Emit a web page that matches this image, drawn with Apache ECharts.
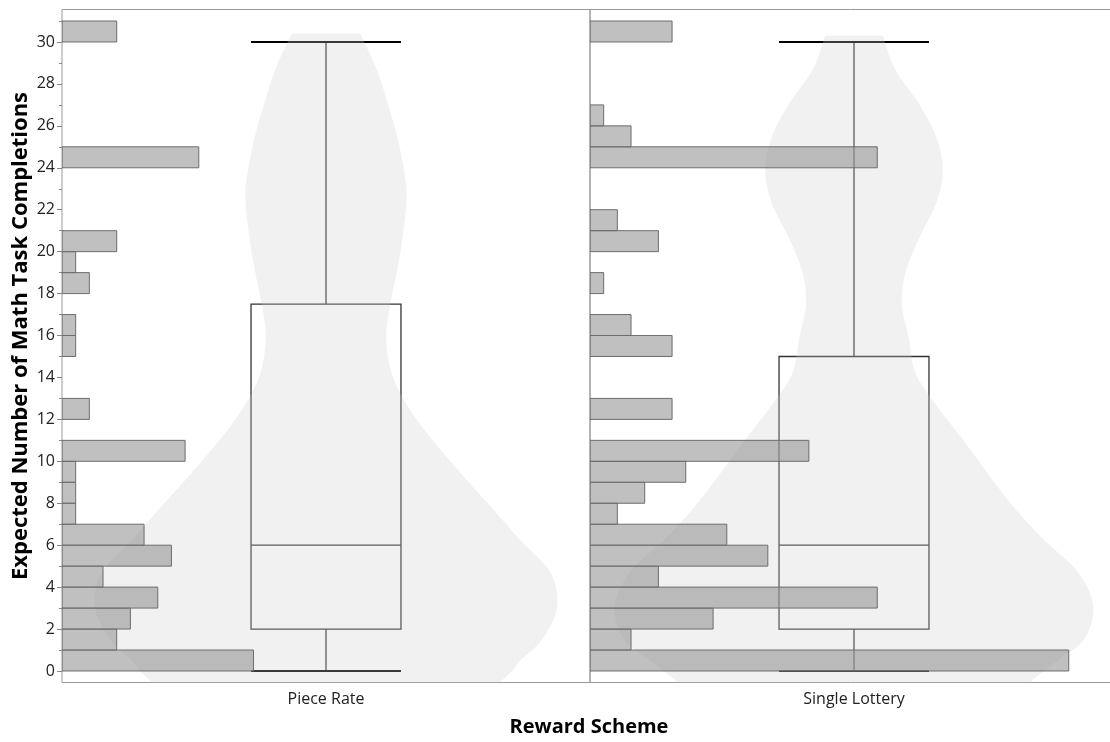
<!DOCTYPE html>
<html>
<head>
<meta charset="utf-8">
<script src="https://cdn.jsdelivr.net/npm/echarts@6/dist/echarts.min.js"></script>
<style>
  html, body { margin: 0; padding: 0; background: #fff; }
  #chart { width: 1110px; height: 742px; }
</style>
</head>
<body>
<div id="chart"></div>
<script>
// Reward schemes shown side by side
const categories = ['Piece Rate', 'Single Lottery'];

// Histogram: number of participants per unit-wide bin [k, k+1)
const binStarts = [0, 1, 2, 3, 4, 5, 6, 7, 8, 9, 10, 11, 12, 13, 14, 15,
                   16, 17, 18, 19, 20, 21, 22, 23, 24, 25, 26, 27, 28, 29, 30];
const pieceRateCounts = [14, 4, 5, 7, 3, 8, 6, 1, 1, 1, 9, 0, 2, 0, 0, 1,
                         1, 0, 2, 1, 4, 0, 0, 0, 10, 0, 0, 0, 0, 0, 4];
const singleLotteryCounts = [35, 3, 9, 21, 5, 13, 10, 2, 4, 7, 16, 0, 6, 0, 0, 6,
                             3, 0, 1, 0, 5, 2, 0, 0, 21, 3, 1, 0, 0, 0, 6];

// Box plot summaries: [min, Q1, median, Q3, max]
const pieceRateBox = [0, 2, 6, 17.5, 30];
const singleLotteryBox = [0, 2, 6, 15, 30];

// Violin outlines: value levels and half-widths (in histogram count units)
const pieceRateViolinY = [-0.6, 0, 0.5, 1.5, 3.05, 4.7, 6.25, 7.8, 9.4, 11.0, 12.6,
                          14.2, 15.9, 17.5, 19.1, 20.7, 22.6, 23.9, 25.5, 27.1, 28.7, 30.4];
const pieceRateViolinHalf = [12.6, 13.6, 14.2, 15.8, 16.9, 16.4, 14.2, 12.1, 9.9, 7.8, 6.0,
                             4.8, 4.4, 4.7, 5.2, 5.6, 5.9, 5.7, 5.2, 4.5, 3.7, 2.5];
const singleLotteryViolinY = [-0.6, -0.3, 0.5, 1.5, 3.05, 4.7, 6.25, 7.8, 9.4, 11.0, 12.6,
                              14.2, 15.9, 17.5, 19.1, 20.7, 22.3, 23.9, 25.5, 27.1, 28.7, 30.3];
const singleLotteryViolinHalf = [12.8, 13.3, 14.9, 16.8, 17.5, 16.4, 13.9, 11.7, 9.8, 8.0, 6.1,
                                 4.5, 4.0, 3.5, 3.8, 4.8, 6.0, 6.5, 6.0, 4.7, 3.0, 2.1];

// Y axis ticks
const yTickLabels = [0, 2, 4, 6, 8, 10, 12, 14, 16, 18, 20, 22, 24, 26, 28, 30];
const yMinorTicks = [1, 3, 5, 7, 9, 11, 13, 15, 17, 19, 21, 23, 25, 27, 29, 31];

const Y_MIN = -0.55;
const Y_MAX = 31.55;
const COUNT_MAX = 38.6;
const BOX_FRACTION = 0.284;
const FONT = '"Open Sans", "Noto Sans", sans-serif';

const panels = [
  { counts: pieceRateCounts, box: pieceRateBox, vy: pieceRateViolinY, vh: pieceRateViolinHalf },
  { counts: singleLotteryCounts, box: singleLotteryBox, vy: singleLotteryViolinY, vh: singleLotteryViolinHalf }
];

// Open Catmull-Rom curve through the points, as SVG path commands (no leading M)
function curveThrough(pts) {
  let d = '';
  for (let k = 0; k < pts.length - 1; k++) {
    const p0 = pts[Math.max(k - 1, 0)];
    const p1 = pts[k];
    const p2 = pts[k + 1];
    const p3 = pts[Math.min(k + 2, pts.length - 1)];
    const c1x = p1[0] + (p2[0] - p0[0]) / 6;
    const c1y = p1[1] + (p2[1] - p0[1]) / 6;
    const c2x = p2[0] - (p3[0] - p1[0]) / 6;
    const c2y = p2[1] - (p3[1] - p1[1]) / 6;
    d += ' C' + c1x + ',' + c1y + ' ' + c2x + ',' + c2y + ' ' + p2[0] + ',' + p2[1];
  }
  return d;
}

const chart = echarts.init(document.getElementById('chart'), null, { renderer: 'canvas' });

const grids = [
  { left: 62, top: 9.5, width: 528, height: 673 },
  { left: 590, top: 9.5, width: 528, height: 673 }
].map(g => Object.assign(g, {
  show: true, borderColor: '#9a9a9a', borderWidth: 1, backgroundColor: 'transparent',
  containLabel: false, outerBoundsMode: 'none'
}));

const xAxes = [];
categories.forEach((name, i) => {
  xAxes.push({
    type: 'category', gridIndex: i, data: [name],
    axisLine: { show: false }, axisTick: { show: false }, splitLine: { show: false },
    axisLabel: { fontFamily: FONT, fontSize: 16, color: '#222', margin: 9 }
  });
});
categories.forEach((name, i) => {
  xAxes.push({ type: 'value', gridIndex: i, min: 0, max: COUNT_MAX, show: false });
});

const yAxes = [
  {
    type: 'value', gridIndex: 0, position: 'left', min: Y_MIN, max: Y_MAX,
    axisLine: { show: false }, splitLine: { show: false },
    axisTick: { show: true, customValues: yTickLabels, length: 5, lineStyle: { color: '#888' } },
    axisLabel: { customValues: yTickLabels, fontFamily: FONT, fontSize: 16, color: '#222', margin: 7 }
  },
  {
    type: 'value', gridIndex: 0, position: 'left', offset: 0, min: Y_MIN, max: Y_MAX,
    axisLine: { show: false }, splitLine: { show: false },
    axisTick: { show: true, customValues: yMinorTicks, length: 3, lineStyle: { color: '#888' } },
    axisLabel: { show: false }
  },
  {
    type: 'value', gridIndex: 1, position: 'left', min: Y_MIN, max: Y_MAX,
    axisLine: { show: false }, splitLine: { show: false },
    axisTick: { show: false }, axisLabel: { show: false }
  }
];

const series = [];

panels.forEach((p, i) => {
  const yIdx = i === 0 ? 0 : 2;

  // Box plot with whiskers
  series.push({
    type: 'custom', xAxisIndex: i, yAxisIndex: yIdx, z: 1, silent: true, clip: true,
    data: [[0].concat(p.box)],
    renderItem: function (params, api) {
      const lo = api.coord([0, api.value(1)]);
      const q1 = api.coord([0, api.value(2)]);
      const med = api.coord([0, api.value(3)]);
      const q3 = api.coord([0, api.value(4)]);
      const hi = api.coord([0, api.value(5)]);
      const half = api.size([1, 0])[0] * BOX_FRACTION / 2;
      const cx = lo[0];
      const line = { stroke: '#333', lineWidth: 1.3 };
      const cap = { stroke: '#000', lineWidth: 2 };
      return {
        type: 'group',
        children: [
          { type: 'rect', shape: { x: cx - half, y: q3[1], width: 2 * half, height: q1[1] - q3[1] }, style: Object.assign({ fill: 'none' }, line) },
          { type: 'line', shape: { x1: cx - half, y1: med[1], x2: cx + half, y2: med[1] }, style: line },
          { type: 'line', shape: { x1: cx, y1: q3[1], x2: cx, y2: hi[1] }, style: line },
          { type: 'line', shape: { x1: cx, y1: q1[1], x2: cx, y2: lo[1] }, style: line },
          { type: 'line', shape: { x1: cx - half, y1: hi[1], x2: cx + half, y2: hi[1] }, style: cap },
          { type: 'line', shape: { x1: cx - half, y1: lo[1], x2: cx + half, y2: lo[1] }, style: cap }
        ]
      };
    }
  });

  // Violin (density outline, mirrored around the panel centre, flat at both ends)
  const violinData = p.vy.map((y, k) => [y, p.vh[k]]);
  series.push({
    type: 'custom', xAxisIndex: 2 + i, yAxisIndex: yIdx, z: 2, silent: true, clip: true,
    data: [0],
    renderItem: function (params, api) {
      if (params.dataIndex !== 0) return;
      const c = COUNT_MAX / 2;
      const right = violinData.map(d => api.coord([c + d[1], d[0]]));
      const left = violinData.slice().reverse().map(d => api.coord([c - d[1], d[0]]));
      const path = 'M' + right[0][0] + ',' + right[0][1] + curveThrough(right) +
        ' L' + left[0][0] + ',' + left[0][1] + curveThrough(left) + ' Z';
      return {
        type: 'path',
        shape: { pathData: path },
        style: { fill: 'rgba(200,203,200,0.28)', stroke: null }
      };
    }
  });

  // Histogram bars drawn from the left edge of each panel
  const histData = binStarts.map((b, k) => [b, p.counts[k]]).filter(d => d[1] > 0);
  series.push({
    type: 'custom', xAxisIndex: 2 + i, yAxisIndex: yIdx, z: 3, silent: true, clip: true,
    data: histData,
    renderItem: function (params, api) {
      const start = api.value(0);
      const count = api.value(1);
      const p0 = api.coord([0, start + 1]);
      const p1 = api.coord([count, start]);
      return {
        type: 'rect',
        shape: { x: p0[0], y: p0[1], width: p1[0] - p0[0], height: p1[1] - p0[1] },
        style: { fill: 'rgba(150,150,150,0.6)', stroke: '#6b6e6b', lineWidth: 1 }
      };
    }
  });
});

chart.setOption({
  animation: false,
  backgroundColor: '#fff',
  grid: grids,
  xAxis: xAxes,
  yAxis: yAxes,
  series: series,
  graphic: [
    {
      type: 'text', x: 21, y: 336, rotation: Math.PI / 2,
      style: {
        text: 'Expected Number of Math Task Completions',
        font: 'bold 22px ' + FONT, fill: '#000',
        textAlign: 'center', textVerticalAlign: 'middle'
      }
    },
    {
      type: 'text', x: 589, y: 727,
      style: {
        text: 'Reward Scheme',
        font: 'bold 20px ' + FONT, fill: '#000',
        textAlign: 'center', textVerticalAlign: 'middle'
      }
    }
  ]
});
</script>
</body>
</html>
